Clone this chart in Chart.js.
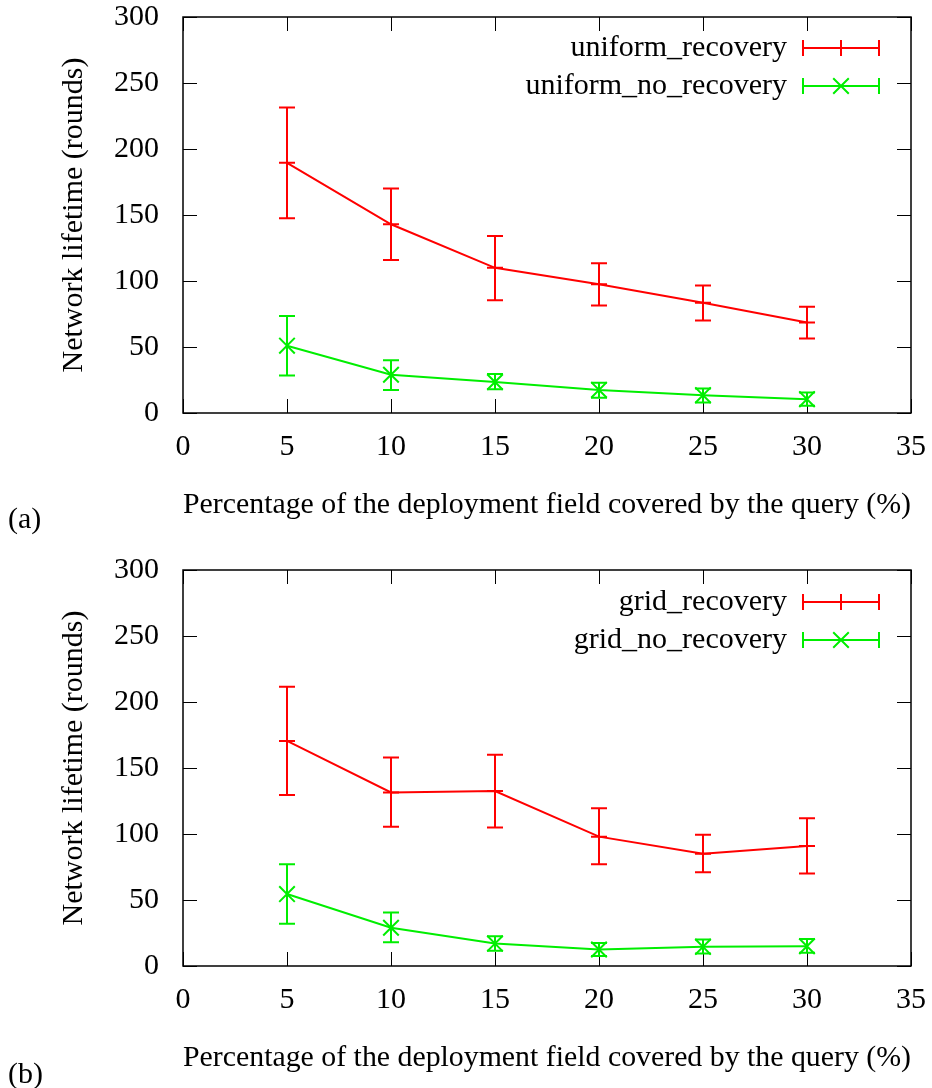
<!DOCTYPE html>
<html>
<head>
<meta charset="utf-8">
<script src="https://cdn.jsdelivr.net/npm/chart.js@4"></script>
<style>
  body { margin: 0; background: #fff; }
  #wrap { position: relative; width: 932px; height: 1088px; }
  .box { position: absolute; left: 0; width: 932px; height: 535px; }
</style>
</head>
<body>
<div id="wrap">
  <div class="box" style="top:0"><canvas id="chartA"></canvas></div>
  <div class="box" style="top:553px"><canvas id="chartB"></canvas></div>
</div>
<script>
// ===== data =====
const xValues = [5, 10, 15, 20, 25, 30];
const xTicks = [0, 5, 10, 15, 20, 25, 30, 35];
const yTicks = [0, 50, 100, 150, 200, 250, 300];

// (a) uniform
const uniformRecovery     = [189.5, 143, 110, 97.5, 83.5, 68.5];
const uniformRecoveryLow  = [147.5, 116, 85.5, 81.5, 70, 56.5];
const uniformRecoveryHigh = [231.5, 170, 134, 113.5, 96.5, 80.5];
const uniformNoRecovery     = [51, 29, 23.5, 17.5, 13.5, 10.5];
const uniformNoRecoveryLow  = [28.5, 17.5, 18, 11.5, 8, 5.5];
const uniformNoRecoveryHigh = [73.5, 40, 29.5, 23, 18.5, 15.5];

// (b) grid
const gridRecovery     = [170.5, 131.5, 132.5, 98, 85, 91];
const gridRecoveryLow  = [129.5, 105.5, 105, 77, 71, 70];
const gridRecoveryHigh = [211.5, 158, 160, 119.5, 99.5, 112];
const gridNoRecovery     = [54.5, 29, 17, 12.5, 14.5, 15];
const gridNoRecoveryLow  = [32, 18, 11.5, 7.5, 9.5, 10];
const gridNoRecoveryHigh = [77, 40.5, 22.5, 17.5, 20, 20.5];

const FONT = "'Liberation Serif', 'DejaVu Serif', serif";
const FSIZE = 30;
const RED = '#ff0000';
const GREEN = '#00ee00';

// ===== error bars, frame, legend =====
const gnuplotStyle = {
  id: 'gnuplotStyle',
  beforeDatasetsDraw(chart) {
    const { ctx, chartArea: a, scales } = chart;
    const tl = 14;
    ctx.save();
    ctx.strokeStyle = '#000';
    ctx.lineWidth = 1;
    ctx.beginPath();
    xTicks.forEach(v => {
      const px = Math.round(scales.x.getPixelForValue(v)) + 0.5;
      ctx.moveTo(px, a.bottom); ctx.lineTo(px, a.bottom - tl);
      ctx.moveTo(px, a.top); ctx.lineTo(px, a.top + tl);
    });
    yTicks.forEach(v => {
      const py = Math.round(scales.y.getPixelForValue(v)) + 0.5;
      ctx.moveTo(a.left, py); ctx.lineTo(a.left + tl, py);
      ctx.moveTo(a.right, py); ctx.lineTo(a.right - tl, py);
    });
    ctx.stroke();
    ctx.lineWidth = 1.5;
    ctx.strokeRect(a.left, a.top, a.right - a.left, a.bottom - a.top);
    ctx.restore();
  },
  afterDatasetsDraw(chart, args, opts) {
    const { ctx, scales } = chart;
    const cap = 8;
    ctx.save();
    chart.data.datasets.forEach((ds, di) => {
      ctx.strokeStyle = ds.borderColor;
      ctx.lineWidth = 2;
      ctx.beginPath();
      xValues.forEach((x, i) => {
        const px = scales.x.getPixelForValue(x);
        const lo = scales.y.getPixelForValue(ds.errLow[i]);
        const hi = scales.y.getPixelForValue(ds.errHigh[i]);
        ctx.moveTo(px, lo); ctx.lineTo(px, hi);
        ctx.moveTo(px - cap, lo); ctx.lineTo(px + cap, lo);
        ctx.moveTo(px - cap, hi); ctx.lineTo(px + cap, hi);
      });
      ctx.stroke();

      // legend entry
      const ly = opts.legendY[di];
      ctx.fillStyle = '#000';
      ctx.font = FSIZE + 'px ' + FONT;
      ctx.textAlign = 'right';
      ctx.textBaseline = 'middle';
      ctx.fillText(ds.label, 787, ly);
      const x0 = 803, x1 = 879, xm = 841;
      ctx.beginPath();
      ctx.moveTo(x0, ly); ctx.lineTo(x1, ly);
      ctx.moveTo(x0, ly - cap); ctx.lineTo(x0, ly + cap);
      ctx.moveTo(x1, ly - cap); ctx.lineTo(x1, ly + cap);
      const r = ds.pointRadius;
      if (ds.pointStyle === 'cross') {
        ctx.moveTo(xm, ly - r); ctx.lineTo(xm, ly + r);
      } else {
        const d = r * Math.SQRT1_2;
        ctx.moveTo(xm - d, ly - d); ctx.lineTo(xm + d, ly + d);
        ctx.moveTo(xm - d, ly + d); ctx.lineTo(xm + d, ly - d);
      }
      ctx.stroke();
    });
    // panel label
    ctx.fillStyle = '#000';
    ctx.font = FSIZE + 'px ' + FONT;
    ctx.textAlign = 'left';
    ctx.textBaseline = 'middle';
    ctx.fillText(opts.panel, 8, opts.panelY);
    ctx.restore();
  }
};

function series(label, vals, low, high, color, style, radius) {
  return {
    label: label,
    data: xValues.map((x, i) => ({ x: x, y: vals[i] })),
    errLow: low,
    errHigh: high,
    borderColor: color,
    backgroundColor: color,
    borderWidth: 2,
    pointStyle: style,
    pointRadius: radius,
    pointBorderWidth: 2,
    pointBorderColor: color,
    tension: 0
  };
}

function makeChart(id, datasets, panel, panelY, legendY) {
  return new Chart(document.getElementById(id), {
    type: 'line',
    data: { datasets: datasets },
    options: {
      responsive: true,
      maintainAspectRatio: false,
      animation: false,
      layout: { padding: { left: 0, right: 21, top: 17, bottom: 0 } },
      plugins: {
        legend: { display: false },
        tooltip: { enabled: false },
        gnuplotStyle: { panel: panel, panelY: panelY, legendY: legendY }
      },
      scales: {
        x: {
          type: 'linear',
          min: 0, max: 35,
          afterBuildTicks: s => { s.ticks = xTicks.map(v => ({ value: v })); },
          afterFit: s => { s.height = 122; s.paddingLeft = 0; s.paddingRight = 0; },
          grid: { display: false },
          border: { display: false },
          ticks: { color: '#000', padding: 8, maxRotation: 0, font: { family: FONT, size: FSIZE } },
          title: {
            display: true,
            text: 'Percentage of the deployment field covered by the query (%)',
            color: '#000',
            font: { family: FONT, size: FSIZE },
            padding: { bottom: 12 }
          }
        },
        y: {
          min: 0, max: 300,
          afterBuildTicks: s => { s.ticks = yTicks.map(v => ({ value: v })); },
          afterFit: s => { s.width = 183; s.paddingTop = 0; s.paddingBottom = 0; },
          grid: { display: false },
          border: { display: false },
          ticks: { color: '#000', padding: 16, font: { family: FONT, size: FSIZE } },
          title: {
            display: true,
            text: 'Network lifetime (rounds)',
            color: '#000',
            font: { family: FONT, size: FSIZE },
            padding: { top: 56 }
          }
        }
      }
    },
    plugins: [gnuplotStyle]
  });
}

makeChart('chartA', [
  series('uniform_recovery', uniformRecovery, uniformRecoveryLow, uniformRecoveryHigh, RED, 'cross', 8),
  series('uniform_no_recovery', uniformNoRecovery, uniformNoRecoveryLow, uniformNoRecoveryHigh, GREEN, 'crossRot', 11)
], '(a)', 520, [48, 86]);

makeChart('chartB', [
  series('grid_recovery', gridRecovery, gridRecoveryLow, gridRecoveryHigh, RED, 'cross', 8),
  series('grid_no_recovery', gridNoRecovery, gridNoRecoveryLow, gridNoRecoveryHigh, GREEN, 'crossRot', 11)
], '(b)', 522, [49, 87]);
</script>
</body>
</html>
